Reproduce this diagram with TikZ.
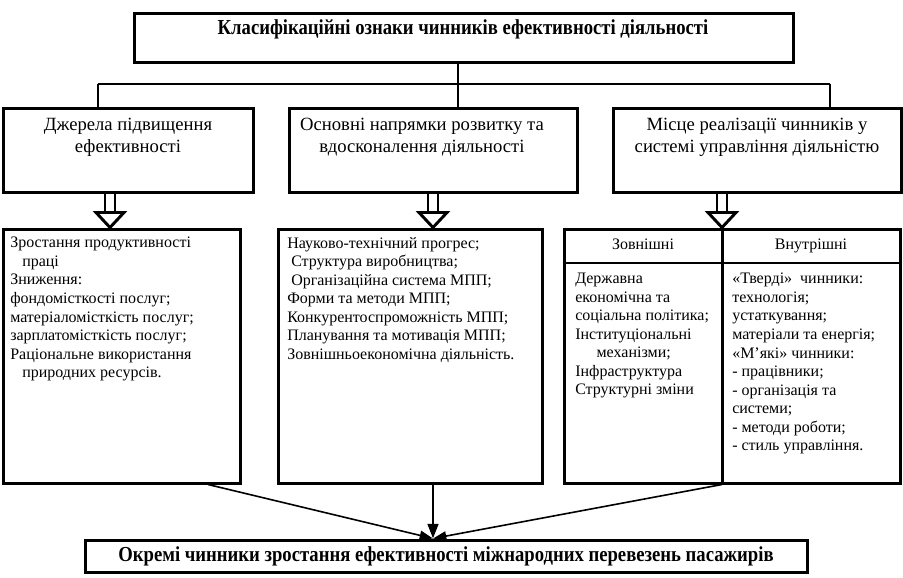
\documentclass[tikz,border=0pt]{standalone}
\usepackage{fontspec}
\setmainfont{Liberation Serif}
\newfontfamily\ttlfont[FakeStretch=0.875]{Liberation Serif}
\usetikzlibrary{arrows.meta,calc,fit}
\newcommand\dblarrow[2]{%
  \draw[line width=2.2pt] ($(#1)+(-5,0)$) -- ($(#2)+(-5,-15)$);
  \draw[line width=2.2pt] ($(#1)+(5,0)$) -- ($(#2)+(5,-15)$);
  \draw[line width=2.2pt, fill=white, line join=miter] ($(#2)+(-14,-15)$) -- ($(#2)+(14,-15)$) -- (#2) -- cycle;}
\begin{document}
\begin{tikzpicture}[x=0.75pt,y=-0.75pt,
  frame/.style={draw, line width=2.25pt, inner sep=0pt},
  bus/.style={line width=2pt},
  drop/.style={line width=1pt},
  hdr/.style={font=\fontsize{14}{16.5}\selectfont, align=center, anchor=north, inner sep=0pt},
  body/.style={font=\fontsize{12}{13.9}\selectfont, align=left, anchor=north west, inner sep=0pt},
  ttl/.style={font=\ttlfont\fontsize{16}{18}\selectfont\bfseries, inner sep=0pt},
  arr/.style={line width=1.2pt, -{Triangle[length=10pt,width=7pt]}},
  marr/.style={line width=2pt, -{Triangle[length=11pt,width=8pt]}}]
\useasboundingbox (0,0) rectangle (903,578);
% top box
\node[frame, fit={(134,13) (793,62)}] (top) {};
\node[ttl] (ttext) at (463,29) {Класифікаційні ознаки чинників ефективності діяльності};
% bus
\coordinate (busL) at (98,84);
\coordinate (busM) at (458,84);
\coordinate (busR) at (830,84);
\draw[bus] (top.south -| busM) -- (busM);
\draw[bus] (busL) -- (busR);
% header boxes
\node[frame, fit={(3,108) (253,192)}] (h1) {};
\node[frame, fit={(289,108) (577,192)}] (h2) {};
\node[frame, fit={(613,108) (901,192)}] (h3) {};
\draw[drop] (busL) -- (busL |- h1.north);
\draw[drop] (busM) -- (busM |- h2.north);
\draw[drop] (busR) -- (busR |- h3.north);
\node[hdr] (h1t) at (128,118) {Джерела підвищення\\ефективності};
\node[hdr] (h2t) at (422,118) {Основні напрямки розвитку та\\вдосконалення діяльності};
\node[hdr] (h3t) at (757,118) {Місце реалізації чинників у\\системі управління діяльністю};
% lower boxes
\node[frame, fit={(3,229) (240,483)}] (l1) {};
\node[frame, fit={(278,229) (542,483)}] (l2) {};
\node[frame, fit={(564,229) (900,483)}] (l3) {};
\coordinate (dv) at (722,0);
\coordinate (sep) at (0,263);
\draw[line width=2.25pt] (l3.north -| dv) -- (l3.south -| dv);
\draw[line width=1.5pt] (l3.west |- sep) -- (l3.east |- sep);
% double arrows
\coordinate (a1) at (110,0);
\coordinate (a2) at (433,0);
\dblarrow{h1.south -| a1}{l1.north -| a1}
\dblarrow{h2.south -| a2}{l2.north -| a2}
\dblarrow{h3.south -| dv}{l3.north -| dv}
% texts
\node[body] (t1) at (10,237) {Зростання продуктивності\\\hspace*{9pt}праці\\Зниження:\\фондомісткості послуг;\\матеріаломісткість послуг;\\зарплатомісткість послуг;\\Раціональне використання\\\hspace*{9pt}природних ресурсів.};
\node[body] (t2) at (287,237) {Науково-технічний прогрес;\\\hspace*{3pt}Структура виробництва;\\\hspace*{3pt}Організаційна система МПП;\\Форми та методи МПП;\\Конкурентоспроможність МПП;\\Планування та мотивація МПП;\\Зовнішньоекономічна діяльність.};
\node[body, anchor=base] (z1) at (643,249) {Зовнішні};
\node[body, anchor=base] (z2) at (811,249) {Внутрішні};
\node[body] (t3) at (575,273) {Державна\\економічна та\\соціальна політика;\\Інституціональні\\\hspace*{16pt}механізми;\\Інфраструктура\\Структурні зміни};
\node[body] (t4) at (732,273) {«Тверді»\ \ чинники:\\технологія;\\устаткування;\\матеріали та енергія;\\«М’які» чинники:\\- працівники;\\- організація та\\системи;\\- методи роботи;\\- стиль управління.};
% bottom box
\node[frame, fit={(85,540) (807,572)}] (bot) {};
\node[ttl] (btext) at (bot.center) {Окремі чинники зростання ефективності міжнародних перевезень пасажирів};
% converging arrows
\coordinate (s1) at (208,0);
\coordinate (cv) at (433,0);
\draw[arr] (l1.south -| s1) -- (bot.north -| cv);
\draw[marr] (l2.south -| cv) -- (bot.north -| cv);
\draw[arr] (l3.south -| dv) -- (bot.north -| cv);
\end{tikzpicture}
\end{document}
